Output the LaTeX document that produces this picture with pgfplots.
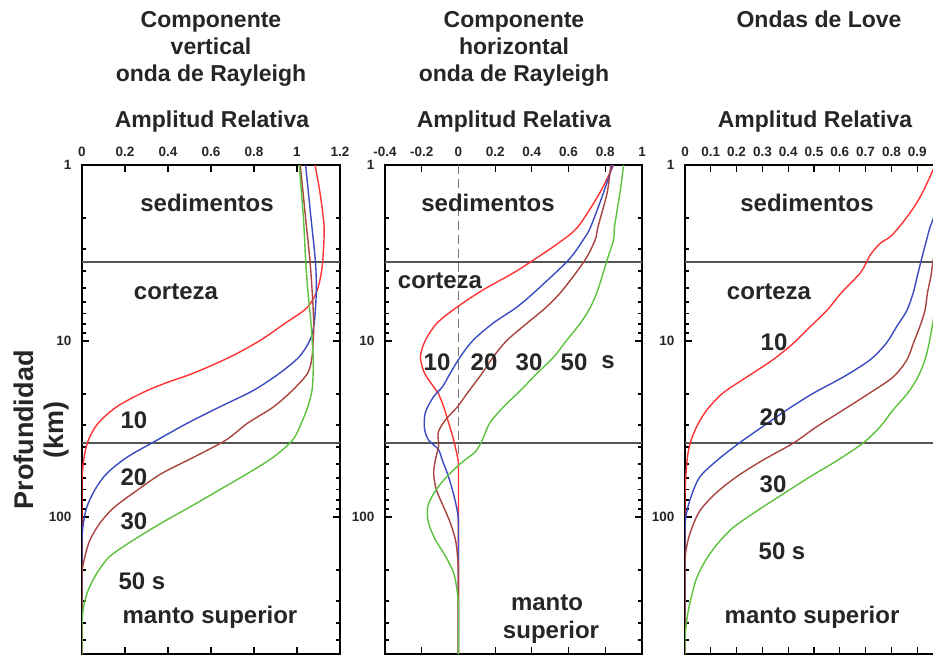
\documentclass[border=0pt]{standalone}
\usepackage{pgfplots}
\pgfplotsset{compat=1.18}
\usepackage{fontspec}
\setmainfont{Liberation Sans}
\definecolor{cRed}{HTML}{FF3333}
\definecolor{cBlue}{HTML}{3A4BC0}
\definecolor{cBrown}{HTML}{A8443F}
\definecolor{cGreen}{HTML}{5CC23E}
\definecolor{cText}{HTML}{262626}
\definecolor{cLine}{HTML}{555555}
\pgfplotsset{
 every axis/.append style={
  scale only axis, height=489pt, anchor=south west,
  ymin=1, ymax=600,
  ytick={1,10,100}, yticklabels={1,10,100},
  minor ytick={2,3,4,5,6,7,8,9,20,30,40,50,60,70,80,90,200,300,400,500,600},
  xticklabel pos=upper,
  tick align=inside,
  major tick length=7pt, minor tick length=4pt,
  axis line style={line width=2pt},
  every tick/.style={black, line width=1.2pt},
  every tick label/.append style={font=\fontsize{13.5}{15}\selectfont\bfseries, text=cText},
  yticklabel style={xshift=-7pt},
  xticklabel style={yshift=5pt},
  clip=true,
 },
 every axis plot/.append style={line width=1.4pt},
}
\tikzset{lab/.style={font=\fontsize{24}{28}\selectfont\bfseries, text=cText, inner sep=0pt},
 ttl/.style={font=\fontsize{23}{27}\selectfont\bfseries, text=cText, inner sep=0pt, anchor=base}}
\begin{document}
\begin{tikzpicture}
\path[use as bounding box] (0,0) rectangle (933pt,654pt);
% ---------- Panel 1 ----------
\begin{axis}[ymode=log, y dir=reverse, at={(82pt,0pt)}, width=258pt, xmin=0, xmax=1.2,
  xtick={0,0.2,0.4,0.6,0.8,1,1.2}, xticklabels={0,0.2,0.4,0.6,0.8,1,1.2}]
\addplot[cLine, line width=1.3pt] coordinates {(0,3.56) (1.2,3.56)};
\addplot[cLine, line width=1.3pt] coordinates {(0,38) (1.2,38)};
\addplot[cRed, smooth] coordinates {(1.084,1) (1.107,1.44) (1.126,2.25) (1.12,3.46) (1.11,4.3) (1.09,5.3) (1.045,6.5) (0.94,8.0) (0.83,9.9) (0.69,12.3) (0.52,15.2) (0.39,17.3) (0.28,19.7) (0.16,23.7) (0.075,29.3) (0.03,36.5) (0.01,45.7) (0,61.6) (0,100) (0,200) (0,400) (0,600)};
\addplot[cBlue, smooth] coordinates {(1.04,1) (1.065,2) (1.085,3.46) (1.09,5.1) (1.08,7.9) (1.06,9.9) (1.01,12.3) (0.92,15.2) (0.80,19) (0.64,23.7) (0.49,29.3) (0.35,36.5) (0.21,45.7) (0.115,56.6) (0.06,70) (0.022,88) (0.007,108) (0,135) (0,250) (0,400) (0,600)};
\addplot[cBrown, smooth] coordinates {(1.015,1) (1.04,2) (1.06,3.46) (1.07,5.1) (1.078,7.9) (1.075,9.9) (1.07,12.3) (1.05,15.2) (0.98,19) (0.89,23.7) (0.77,29.3) (0.67,36.5) (0.52,45.7) (0.37,56.6) (0.26,70) (0.15,88) (0.084,108) (0.037,135) (0.014,167) (0,208) (0,300) (0,450) (0,600)};
\addplot[cGreen, smooth] coordinates {(1.01,1) (1.03,2) (1.04,3.46) (1.05,5.1) (1.065,7.9) (1.075,12.3) (1.075,15.2) (1.07,19) (1.05,23.7) (1.02,29.3) (0.98,36.5) (0.89,45.7) (0.77,56.6) (0.64,70) (0.50,88) (0.37,108) (0.24,135) (0.13,167) (0.07,208) (0.03,258) (0.008,320) (0,400) (0,500) (0,600)};
\end{axis}
% ---------- Panel 2 ----------
\begin{axis}[ymode=log, y dir=reverse, at={(385pt,0pt)}, width=257pt, xmin=-0.4, xmax=1,
  xtick={-0.4,-0.2,0,0.2,0.4,0.6,0.8,1}, xticklabels={-0.4,-0.2,0,0.2,0.4,0.6,0.8,1}]
\addplot[cLine, line width=1.3pt] coordinates {(-0.4,3.56) (1,3.56)};
\addplot[cLine, line width=1.3pt] coordinates {(-0.4,38) (1,38)};
\addplot[cLine!80, line width=1.3pt, dash pattern=on 9pt off 5pt] coordinates {(0,1) (0,600)};
\addplot[cRed, smooth] coordinates {(0.845,1) (0.77,1.44) (0.65,2.25) (0.54,2.8) (0.41,3.46) (0.30,4.1) (0.137,5.1) (-0.006,6.4) (-0.116,7.9) (-0.18,9.9) (-0.207,12.3) (-0.185,15.2) (-0.135,18.2) (-0.11,19.8) (-0.08,23.7) (-0.053,29.3) (-0.026,36.5) (-0.005,45.7) (0,52) (0,100) (0,200) (0,400) (0,600)};
\addplot[cBlue, smooth] coordinates {(0.84,1) (0.79,1.44) (0.72,2.25) (0.68,2.66) (0.60,3.46) (0.43,5.1) (0.32,6.4) (0.19,7.9) (0.08,9.9) (0.01,12.3) (-0.044,15.2) (-0.087,18.2) (-0.135,20.7) (-0.18,25.4) (-0.185,31.4) (-0.163,36.5) (-0.108,41.4) (-0.09,46.9) (-0.06,56.6) (-0.033,70) (-0.01,88) (0,108) (0,200) (0,400) (0,600)};
\addplot[cBrown, smooth] coordinates {(0.83,1) (0.81,1.44) (0.76,2.25) (0.745,2.66) (0.69,3.46) (0.57,5.1) (0.48,6.4) (0.375,7.9) (0.265,9.9) (0.19,12.3) (0.13,15.2) (0.048,19.8) (-0.006,23.7) (-0.07,28) (-0.11,33) (-0.108,39.3) (-0.125,47) (-0.135,56.6) (-0.12,70) (-0.08,88) (-0.044,108) (-0.016,135) (-0.005,167) (0,200) (0,300) (0,450) (0,600)};
\addplot[cGreen, smooth] coordinates {(0.90,1) (0.88,1.44) (0.85,2.25) (0.845,2.66) (0.81,3.46) (0.76,5.1) (0.72,6.4) (0.665,7.9) (0.59,9.9) (0.52,12.3) (0.43,15.2) (0.34,19) (0.245,23.7) (0.17,29.3) (0.13,36.5) (0.093,42.5) (0.04,47) (-0.006,51.5) (-0.08,61.6) (-0.135,73.6) (-0.168,88) (-0.163,108) (-0.125,135) (-0.07,167) (-0.026,208) (-0.008,258) (0,320) (0,450) (0,600)};
\end{axis}
% ---------- Panel 3 ----------
\begin{axis}[ymode=log, y dir=reverse, at={(685pt,0pt)}, width=258pt, xmin=0, xmax=1,
  xtick={0,0.1,0.2,0.3,0.4,0.5,0.6,0.7,0.8,0.9}, xticklabels={0,0.1,0.2,0.3,0.4,0.5,0.6,0.7,0.8,0.9}]
\addplot[cLine, line width=1.3pt] coordinates {(0,3.56) (1,3.56)};
\addplot[cLine, line width=1.3pt] coordinates {(0,38) (1,38)};
\addplot[cRed, smooth] coordinates {(0.97,1) (0.92,1.44) (0.88,1.8) (0.83,2.25) (0.795,2.56) (0.756,2.79) (0.717,3.25) (0.704,3.55) (0.678,4.13) (0.607,5.3) (0.55,6.7) (0.485,8.3) (0.42,10.3) (0.34,12.8) (0.24,16) (0.148,19.7) (0.085,24.6) (0.045,30.7) (0.02,38) (0.008,47.7) (0,74) (0,150) (0,300) (0,600)};
\addplot[cBlue, smooth] coordinates {(1.0,1) (0.99,1.5) (0.965,1.97) (0.95,2.25) (0.923,3.16) (0.90,4.3) (0.885,5.3) (0.86,6.7) (0.82,8.3) (0.78,10.3) (0.717,12.8) (0.614,16) (0.50,19.7) (0.395,24.6) (0.30,30.7) (0.21,38) (0.124,47.7) (0.058,59) (0.027,74) (0.008,92) (0,115) (0,200) (0,400) (0,600)};
\addplot[cBrown, smooth] coordinates {(1.0,1) (0.99,2) (0.962,3.46) (0.953,4.3) (0.94,5.3) (0.93,6.7) (0.91,8.3) (0.885,10.3) (0.86,12.8) (0.807,16) (0.717,19.7) (0.614,24.6) (0.51,30.7) (0.42,38) (0.30,47.7) (0.20,59) (0.116,74) (0.058,92) (0.027,115) (0.008,143) (0,180) (0,300) (0,450) (0,600)};
\addplot[cGreen, smooth] coordinates {(1.0,1) (0.99,4) (0.962,7.6) (0.946,10.3) (0.93,12.8) (0.903,16) (0.864,19.7) (0.807,24.6) (0.756,30.7) (0.69,38) (0.59,47.7) (0.485,59) (0.38,74) (0.28,92) (0.186,115) (0.124,143) (0.078,178) (0.045,222) (0.027,276) (0.012,345) (0.003,430) (0,500) (0,600)};
\end{axis}
% ---------- Titles ----------
\node[ttl] at (211pt,626pt) {Componente};
\node[ttl] at (211pt,599pt) {vertical};
\node[ttl] at (211pt,572pt) {onda de Rayleigh};
\node[ttl] at (212pt,526pt) {Amplitud Relativa};
\node[ttl] at (514pt,626pt) {Componente};
\node[ttl] at (514pt,599pt) {horizontal};
\node[ttl] at (514pt,572pt) {onda de Rayleigh};
\node[ttl] at (514pt,526pt) {Amplitud Relativa};
\node[ttl] at (819pt,626pt) {Ondas de Love};
\node[ttl] at (815pt,526pt) {Amplitud Relativa};
% ---------- Y label ----------
\node[font=\fontsize{27}{30}\selectfont\bfseries, text=cText, rotate=90, inner sep=0pt] at (24pt,224pt) {Profundidad};
\node[font=\fontsize{27}{30}\selectfont\bfseries, text=cText, rotate=90, inner sep=0pt] at (57pt,224pt) {(km)};
% ---------- Panel 1 labels ----------
\node[lab] at (207pt,451pt) {sedimentos};
\node[lab] at (176pt,362pt) {corteza};
\node[lab] at (134pt,234pt) {10};
\node[lab] at (134pt,177pt) {20};
\node[lab] at (134pt,133pt) {30};
\node[lab] at (142pt,73pt) {50 s};
\node[lab] at (210pt,37pt) {manto superior};
% ---------- Panel 2 labels ----------
\node[lab] at (488pt,451pt) {sedimentos};
\node[lab] at (440pt,373pt) {corteza};
\node[lab] at (437pt,292pt) {10};
\node[lab] at (484pt,292pt) {20};
\node[lab] at (529pt,292pt) {30};
\node[lab] at (574pt,292pt) {50};
\node[lab] at (608pt,292pt) {s};
\node[lab] at (547pt,51pt) {manto};
\node[lab] at (551pt,22pt) {superior};
% ---------- Panel 3 labels ----------
\node[lab] at (807pt,451pt) {sedimentos};
\node[lab] at (769pt,362pt) {corteza};
\node[lab] at (774pt,312pt) {10};
\node[lab] at (773pt,237pt) {20};
\node[lab] at (773pt,170pt) {30};
\node[lab] at (782pt,103pt) {50 s};
\node[lab] at (812pt,37pt) {manto superior};
\end{tikzpicture}
\end{document}
